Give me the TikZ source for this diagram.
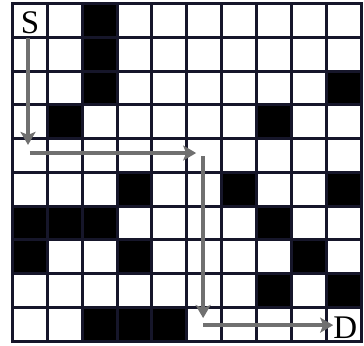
\documentclass[tikz,border=0pt]{standalone}
\usepackage{fontspec}
\setmainfont{Liberation Serif}
\usetikzlibrary{arrows.meta}
\definecolor{gridink}{HTML}{16162A}
\definecolor{routegray}{HTML}{707070}

\begin{document}
\begin{tikzpicture}[x=34.85pt, y=-33.75pt,
      wall/.style={fill=black},
      gridline/.style={draw=gridink, line width=3pt, line cap=rect},
      lbl/.style={inner sep=0pt, font=\fontsize{33}{33}\selectfont},
      route/.style={-{Stealth[length=13pt, width=15pt, inset=3pt]}, line width=4.5pt, routegray}]
    \useasboundingbox (-0.359,-0.104) rectangle (10.086,10.119);
    % blocked cells (row/column)
    \foreach \r/\c in {0/2, 1/2, 2/2, 2/9, 3/1, 3/7, 5/3, 5/6, 5/9, 6/0, 6/1, 6/2, 6/7,
                       7/0, 7/3, 7/8, 8/7, 8/9, 9/2, 9/3, 9/4}
      \fill[wall] (\c,\r) rectangle ++(1,1);
    \foreach \i in {0,...,10} {
      \draw[gridline] (\i,0) -- (\i,10);
      \draw[gridline] (0,\i) -- (10,\i);
    }
    \node[lbl] (S) at (0.5,0.56) {S};
    \node[lbl] (D) at (9.55,9.6) {D};
    % path from S to D
    \coordinate (p0) at (0.445,1.02);
    \coordinate (p1) at (0.445,4.19);
    \coordinate (p2) at (0.50,4.43);
    \coordinate (p3) at (5.27,4.43);
    \coordinate (p4) at (5.47,4.52);
    \coordinate (p5) at (5.47,9.32);
    \coordinate (p6) at (5.47,9.53);
    \draw[route] (p0) -- (p1);
    \draw[route] (p2) -- (p3);
    \draw[route] (p4) -- (p5);
    \draw[route] (p6) -- (p6 -| D.west);
  \end{tikzpicture}
\end{document}
